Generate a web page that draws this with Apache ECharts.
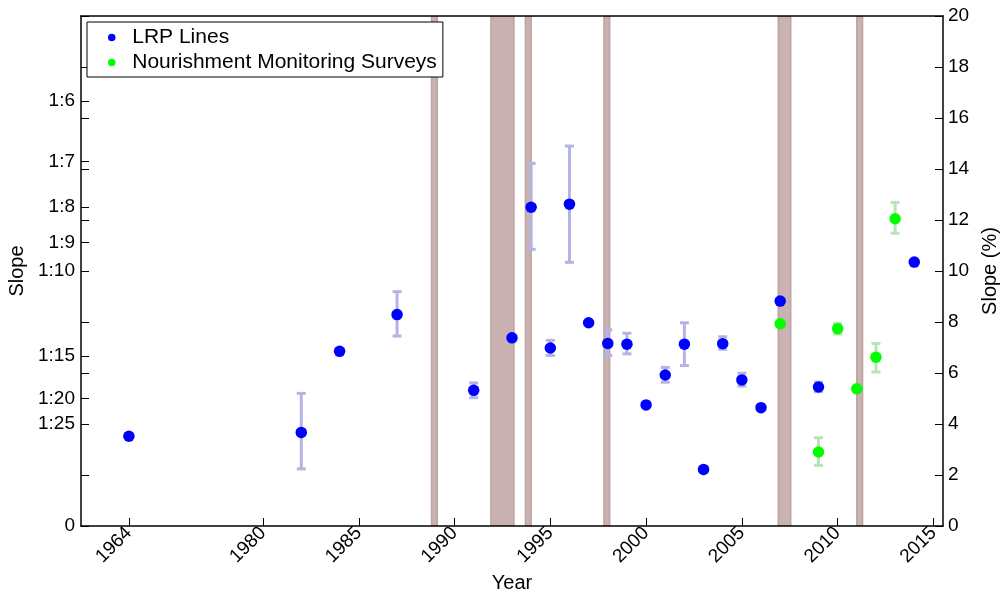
<!DOCTYPE html>
<html>
<head>
<meta charset="utf-8">
<script src="https://cdn.jsdelivr.net/npm/echarts@6/dist/echarts.min.js"></script>
<style>
  html, body { margin: 0; padding: 0; background: #fff; }
  #chart { width: 1001px; height: 597px; }
</style>
</head>
<body>
<div id="chart"></div>
<script>
// LRP line surveys: year, beach slope (%), error range (null = no bar)
const lrpYears = [1964, 1982, 1984, 1987, 1991, 1993, 1994, 1995, 1996, 1997, 1998, 1999, 2000, 2001, 2002, 2003, 2004, 2005, 2006, 2007, 2009, 2014];
const lrpSlope = [3.52, 3.67, 6.85, 8.29, 5.32, 7.38, 12.50, 6.98, 12.62, 7.97, 7.16, 7.13, 4.75, 5.92, 7.13, 2.22, 7.15, 5.73, 4.64, 8.82, 5.45, 10.35];
const lrpLow  = [null, 2.24, null, 7.45, 5.03, null, 10.85, 6.69, 10.34, null, 6.69, 6.75, null, 5.64, 6.29, null, 6.93, 5.49, null, null, 5.27, null];
const lrpHigh = [null, 5.20, null, 9.19, 5.61, null, 14.22, 7.28, 14.90, null, 7.69, 7.56, null, 6.22, 7.97, null, 7.42, 5.99, null, null, 5.64, null];

// Nourishment monitoring surveys
const nourYears = [2007, 2009, 2010, 2011, 2012, 2013];
const nourSlope = [7.93, 2.90, 7.74, 5.38, 6.62, 12.05];
const nourLow   = [null, 2.38, 7.53, null, 6.04, 11.48];
const nourHigh  = [null, 3.46, 7.95, null, 7.16, 12.69];

// Shaded event periods (decimal years)
const eventStart = [1988.8, 1991.9, 1993.7, 1997.8, 2006.9, 2011.0];
const eventEnd   = [1989.1, 1993.1, 1994.0, 1998.1, 2007.55, 2011.3];

// Axis ticks
const yearTicks = [1964, 1980, 1985, 1990, 1995, 2000, 2005, 2010, 2015];
const slopeRatios = [6, 7, 8, 9, 10, 15, 20, 25];   // labelled as 1:N on the left axis
const percentTicks = [0, 2, 4, 6, 8, 10, 12, 14, 16, 18, 20];

// The time axis is broken before 1980: earlier years are pulled forward.
const BREAK_YEAR = 1980;
const EARLY_SHIFT = 9;
function yearPos(y) { return y < BREAK_YEAR ? y + EARLY_SHIFT : y; }

const yearTickPos = yearTicks.map(yearPos);
const ratioValues = slopeRatios.map(n => 100 / n);

function pointsOf(years, values) {
  return years.map((y, i) => [yearPos(y), values[i]]);
}
function barsOf(years, lows, highs) {
  const out = [];
  years.forEach((y, i) => {
    if (lows[i] != null && highs[i] != null) out.push([yearPos(y), lows[i], highs[i]]);
  });
  return out;
}

function errorBarRenderer(color) {
  return function (params, api) {
    const x = api.value(0);
    const lo = api.coord([x, api.value(1)]);
    const hi = api.coord([x, api.value(2)]);
    const hw = 4.5;
    const style = { stroke: color, lineWidth: 3, fill: null };
    return {
      type: 'group',
      children: [
        { type: 'line', shape: { x1: lo[0], y1: lo[1], x2: hi[0], y2: hi[1] }, style: style },
        { type: 'line', shape: { x1: lo[0] - hw, y1: lo[1], x2: lo[0] + hw, y2: lo[1] }, style: style },
        { type: 'line', shape: { x1: hi[0] - hw, y1: hi[1], x2: hi[0] + hw, y2: hi[1] }, style: style }
      ]
    };
  };
}

function bandRenderer(params, api) {
  const p0 = api.coord([api.value(0), 20]);
  const p1 = api.coord([api.value(1), 0]);
  return {
    type: 'rect',
    shape: { x: p0[0], y: p0[1], width: p1[0] - p0[0], height: p1[1] - p0[1] },
    style: { fill: '#cab2b2', stroke: '#bea3a3', lineWidth: 1.5 }
  };
}

const FONT = "'Liberation Sans', Arial, Helvetica, sans-serif";
const axisLineStyle = { color: '#000', width: 1.5 };

const chart = echarts.init(document.getElementById('chart'), null, { renderer: 'canvas' });
chart.setOption({
  animation: false,
  backgroundColor: '#fff',
  textStyle: { fontFamily: FONT, color: '#000' },
  grid: { left: 81, right: 58, top: 16, bottom: 71, containLabel: false, outerBoundsMode: 'none' },
  legend: {
    data: ['LRP Lines', 'Nourishment Monitoring Surveys'],
    orient: 'vertical',
    left: 87,
    top: 22,
    padding: [5, 6, 4, 21],
    itemGap: 4,
    itemWidth: 31,
    itemHeight: 7.5,
    icon: 'circle',
    backgroundColor: '#fff',
    borderColor: '#000',
    borderWidth: 1,
    borderRadius: 0,
    z: 20,
    textStyle: { fontFamily: FONT, fontSize: 21, color: '#000' }
  },
  xAxis: [
    {
      type: 'value',
      min: 1970.5,
      max: 2015.5,
      z: 10,
      name: 'Year',
      nameLocation: 'middle',
      nameGap: 44,
      nameTextStyle: { fontFamily: FONT, fontSize: 20, color: '#000' },
      axisLine: { show: true, onZero: false, lineStyle: axisLineStyle },
      axisTick: { show: true, inside: true, length: 8, customValues: yearTickPos, lineStyle: { color: '#000', width: 1 } },
      axisLabel: {
        customValues: yearTickPos,
        rotate: 45,
        margin: 4,
        fontFamily: FONT,
        fontSize: 19,
        color: '#000',
        formatter: function (v) {
          const i = yearTickPos.findIndex(p => Math.abs(p - v) < 1e-6);
          return i >= 0 ? String(yearTicks[i]) : '';
        }
      },
      splitLine: { show: false }
    },
    {
      type: 'value',
      position: 'top',
      min: 1970.5,
      max: 2015.5,
      z: 10,
      axisLine: { show: true, onZero: false, lineStyle: axisLineStyle },
      axisTick: { show: false },
      axisLabel: { show: false },
      splitLine: { show: false }
    }
  ],
  yAxis: [
    {
      type: 'value',
      position: 'left',
      min: 0,
      max: 20,
      z: 10,
      name: 'Slope',
      nameLocation: 'middle',
      nameGap: 47,
      nameTextStyle: { fontFamily: FONT, fontSize: 20, color: '#000' },
      axisLine: { show: true, onZero: false, lineStyle: axisLineStyle },
      axisTick: {
        show: true, inside: true, length: 8,
        customValues: percentTicks.concat(ratioValues),
        lineStyle: { color: '#000', width: 1 }
      },
      axisLabel: {
        customValues: [0].concat(ratioValues),
        margin: 6,
        fontFamily: FONT,
        fontSize: 19,
        color: '#000',
        formatter: function (v) { return v === 0 ? '0' : '1:' + Math.round(100 / v); }
      },
      splitLine: { show: false }
    },
    {
      type: 'value',
      position: 'right',
      min: 0,
      max: 20,
      interval: 2,
      z: 10,
      name: 'Slope (%)',
      nameLocation: 'middle',
      nameGap: 34,
      nameTextStyle: { fontFamily: FONT, fontSize: 20, color: '#000' },
      axisLine: { show: true, onZero: false, lineStyle: axisLineStyle },
      axisTick: { show: true, inside: true, length: 8, lineStyle: { color: '#000', width: 1 } },
      axisLabel: { margin: 5, fontFamily: FONT, fontSize: 19, color: '#000' },
      splitLine: { show: false }
    }
  ],
  series: [
    {
      name: 'events',
      type: 'custom',
      renderItem: bandRenderer,
      xAxisIndex: 0,
      yAxisIndex: 0,
      clip: true,
      silent: true,
      z: 1,
      encode: { x: [0, 1] },
      data: eventStart.map((s, i) => [s, eventEnd[i]])
    },
    {
      name: 'LRP error',
      type: 'custom',
      renderItem: errorBarRenderer('#b4b4e4'),
      xAxisIndex: 0,
      yAxisIndex: 0,
      z: 3,
      silent: true,
      encode: { x: 0, y: [1, 2] },
      data: barsOf(lrpYears, lrpLow, lrpHigh)
    },
    {
      name: 'Nourishment error',
      type: 'custom',
      renderItem: errorBarRenderer('#b8e4b8'),
      xAxisIndex: 0,
      yAxisIndex: 0,
      z: 3,
      silent: true,
      encode: { x: 0, y: [1, 2] },
      data: barsOf(nourYears, nourLow, nourHigh)
    },
    {
      name: 'LRP Lines',
      type: 'scatter',
      xAxisIndex: 0,
      yAxisIndex: 0,
      symbol: 'circle',
      symbolSize: 11.5,
      z: 5,
      itemStyle: { color: '#0000ff', opacity: 1 },
      data: pointsOf(lrpYears, lrpSlope)
    },
    {
      name: 'Nourishment Monitoring Surveys',
      type: 'scatter',
      xAxisIndex: 0,
      yAxisIndex: 0,
      symbol: 'circle',
      symbolSize: 11.5,
      z: 5,
      itemStyle: { color: '#00ff00', opacity: 1 },
      data: pointsOf(nourYears, nourSlope)
    }
  ]
});
</script>
</body>
</html>
